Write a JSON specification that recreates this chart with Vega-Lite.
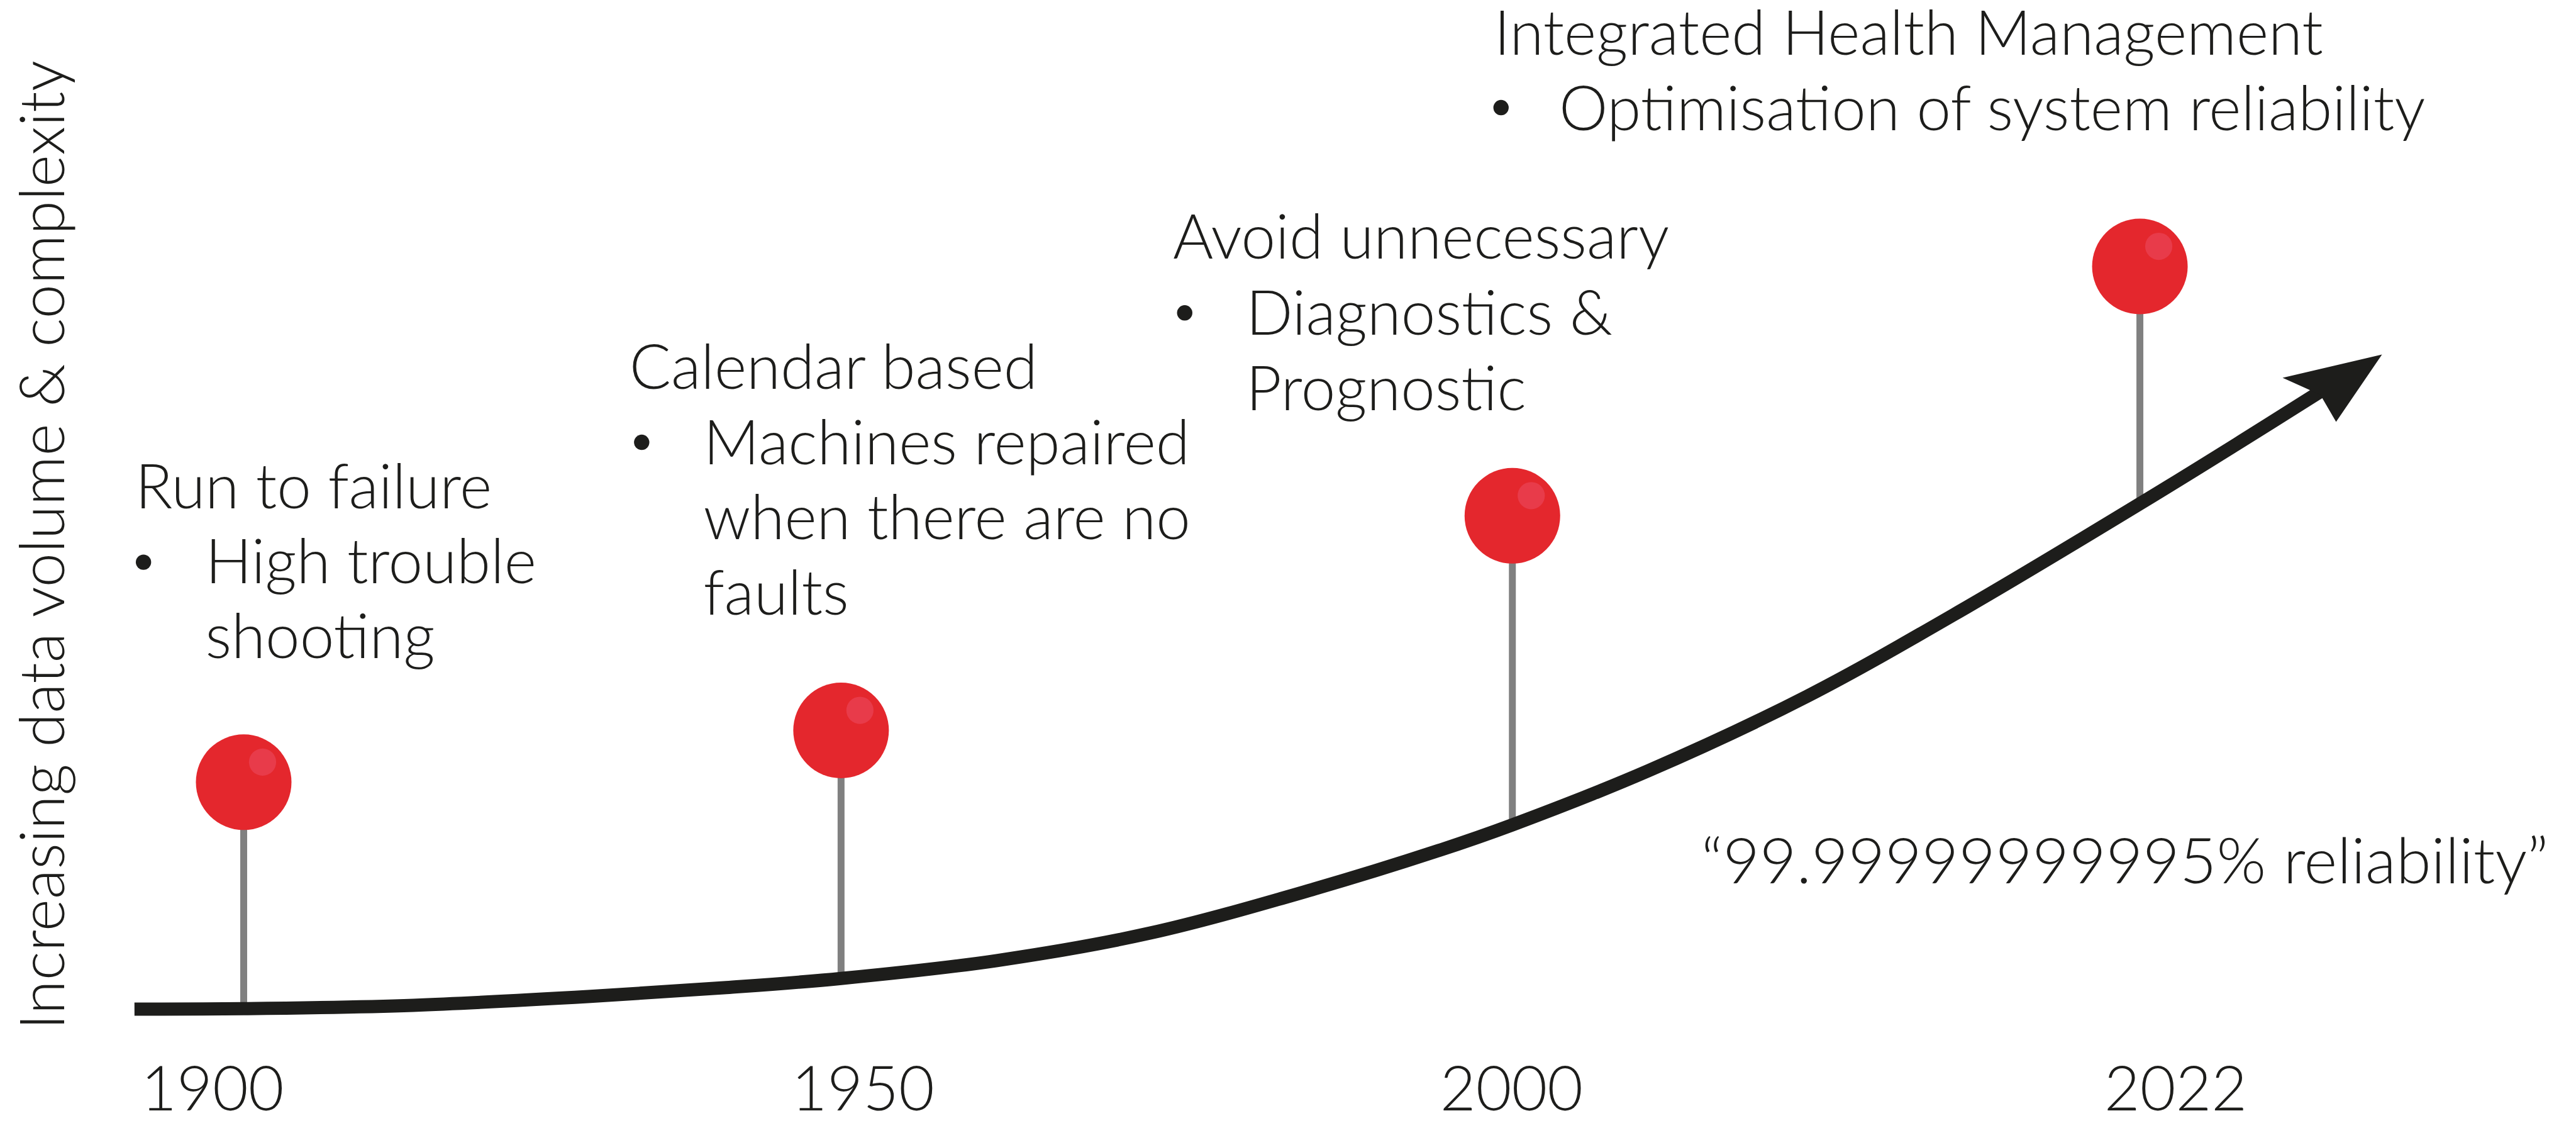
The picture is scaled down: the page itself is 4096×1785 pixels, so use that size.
{
  "$schema": "https://vega.github.io/schema/vega-lite/v6.json",
  "width": 4096,
  "height": 1785,
  "autosize": {"type": "fit", "contains": "padding"},
  "padding": 0,
  "background": "white",
  "config": {"view": {"stroke": null}},
  "datasets": {
    "curve": [
      {"t": 5.22, "v": 9.78}, {"t": 9.46, "v": 9.83}, {"t": 16.04, "v": 10.13},
      {"t": 22.92, "v": 10.92}, {"t": 28.19, "v": 11.71}, {"t": 32.65, "v": 12.53},
      {"t": 38.70, "v": 14.13}, {"t": 44.68, "v": 16.60}, {"t": 51.01, "v": 20.52},
      {"t": 55.82, "v": 23.94}, {"t": 58.71, "v": 26.26}, {"t": 64.00, "v": 31.11},
      {"t": 70.14, "v": 37.74}, {"t": 76.35, "v": 45.72}, {"t": 83.43, "v": 55.47},
      {"t": 86.85, "v": 60.33}, {"t": 90.05, "v": 64.96}
    ],
    "arrow": [{"t": 90.54, "v": 65.30}],
    "pins": [
      {"year": "1900", "t": 9.46, "ball": 30.07, "base": 9.83},
      {"year": "1950", "t": 32.65, "ball": 34.70, "base": 12.53},
      {"year": "2000", "t": 58.71, "ball": 53.89, "base": 26.26},
      {"year": "2022", "t": 83.07, "ball": 76.18, "base": 54.94}
    ],
    "bullets": [
      {"t": 5.57, "v": 49.74}, {"t": 24.91, "v": 60.46},
      {"t": 45.99, "v": 72.03}, {"t": 58.27, "v": 90.38}
    ],
    "notes": [
      {"text": "Run to failure", "t": 5.25, "v": 54.57},
      {"text": "High trouble", "t": 7.97, "v": 47.84},
      {"text": "shooting", "t": 7.97, "v": 41.17},
      {"text": "Calendar based", "t": 24.43, "v": 65.25},
      {"text": "Machines repaired", "t": 27.31, "v": 58.52},
      {"text": "when there are no", "t": 27.31, "v": 51.79},
      {"text": "faults", "t": 27.31, "v": 45.06},
      {"text": "Avoid unnecessary", "t": 45.53, "v": 76.87},
      {"text": "Diagnostics &", "t": 48.37, "v": 70.08},
      {"text": "Prognostic", "t": 48.37, "v": 63.35},
      {"text": "Integrated Health Management", "t": 58.00, "v": 95.11},
      {"text": "Optimisation of system reliability", "t": 60.52, "v": 88.33}
    ],
    "quote": [
      {"text": "“99.99999999995% reliability”", "t": 66.04, "v": 21.03}
    ],
    "years": [
      {"text": "1900", "t": 8.25, "v": 0.74},
      {"text": "1950", "t": 33.50, "v": 0.74},
      {"text": "2000", "t": 58.68, "v": 0.74},
      {"text": "2022", "t": 84.46, "v": 0.74}
    ],
    "ytitle": [{"text": "Increasing data volume & complexity", "t": 2.50, "v": 51.26}]
  },
  "layer": [
    {
      "data": {"name": "pins"},
      "mark": {"type": "rule", "color": "#808080", "strokeWidth": 11},
      "encoding": {
        "x": {"field": "t", "type": "quantitative", "scale": {"domain": [0, 100], "nice": false, "zero": false}, "axis": null},
        "y": {"field": "ball", "type": "quantitative", "scale": {"domain": [0, 100], "nice": false, "zero": false}, "axis": null},
        "y2": {"field": "base"}
      }
    },
    {
      "data": {"name": "curve"},
      "mark": {"type": "line", "color": "#1d1d1b", "strokeWidth": 21, "interpolate": "catmull-rom", "strokeCap": "butt"},
      "encoding": {
        "x": {"field": "t", "type": "quantitative", "axis": null},
        "y": {"field": "v", "type": "quantitative", "axis": null}
      }
    },
    {
      "data": {"name": "arrow"},
      "mark": {"type": "point", "shape": "M0.988,-0.669 L-0.988,-0.206 L-0.238,0.131 L0.075,0.669 Z", "filled": true, "color": "#1d1d1b", "opacity": 1, "size": 25600, "strokeWidth": 0},
      "encoding": {
        "x": {"field": "t", "type": "quantitative", "axis": null},
        "y": {"field": "v", "type": "quantitative", "axis": null}
      }
    },
    {
      "data": {"name": "pins"},
      "mark": {"type": "point", "shape": "circle", "filled": true, "color": "#e4272d", "opacity": 1, "size": 23104, "strokeWidth": 0},
      "encoding": {
        "x": {"field": "t", "type": "quantitative", "axis": null},
        "y": {"field": "ball", "type": "quantitative", "axis": null}
      }
    },
    {
      "data": {"name": "pins"},
      "mark": {"type": "point", "shape": "circle", "filled": true, "color": "#e83b4a", "opacity": 1, "size": 1870, "strokeWidth": 0, "xOffset": 30, "yOffset": -32},
      "encoding": {
        "x": {"field": "t", "type": "quantitative", "axis": null},
        "y": {"field": "ball", "type": "quantitative", "axis": null}
      }
    },
    {
      "data": {"name": "bullets"},
      "mark": {"type": "point", "shape": "circle", "filled": true, "color": "#1d1d1b", "opacity": 1, "size": 595, "strokeWidth": 0},
      "encoding": {
        "x": {"field": "t", "type": "quantitative", "axis": null},
        "y": {"field": "v", "type": "quantitative", "axis": null}
      }
    },
    {
      "data": {"name": "notes"},
      "mark": {"type": "text", "font": "Lato", "fontWeight": 300, "fontSize": 98, "color": "#1d1d1b", "align": "left", "baseline": "alphabetic"},
      "encoding": {
        "x": {"field": "t", "type": "quantitative", "axis": null},
        "y": {"field": "v", "type": "quantitative", "axis": null},
        "text": {"field": "text"}
      }
    },
    {
      "data": {"name": "quote"},
      "mark": {"type": "text", "font": "Lato", "fontWeight": 300, "fontSize": 101, "color": "#1d1d1b", "align": "left", "baseline": "alphabetic"},
      "encoding": {
        "x": {"field": "t", "type": "quantitative", "axis": null},
        "y": {"field": "v", "type": "quantitative", "axis": null},
        "text": {"field": "text"}
      }
    },
    {
      "data": {"name": "years"},
      "mark": {"type": "text", "font": "Lato", "fontWeight": 300, "fontSize": 98, "color": "#1d1d1b", "align": "center", "baseline": "alphabetic"},
      "encoding": {
        "x": {"field": "t", "type": "quantitative", "axis": null},
        "y": {"field": "v", "type": "quantitative", "axis": null},
        "text": {"field": "text"}
      }
    },
    {
      "data": {"name": "ytitle"},
      "mark": {"type": "text", "font": "Lato", "fontWeight": 300, "fontSize": 98, "color": "#1d1d1b", "align": "center", "baseline": "alphabetic", "angle": 270},
      "encoding": {
        "x": {"field": "t", "type": "quantitative", "axis": null},
        "y": {"field": "v", "type": "quantitative", "axis": null},
        "text": {"field": "text"}
      }
    }
  ]
}
